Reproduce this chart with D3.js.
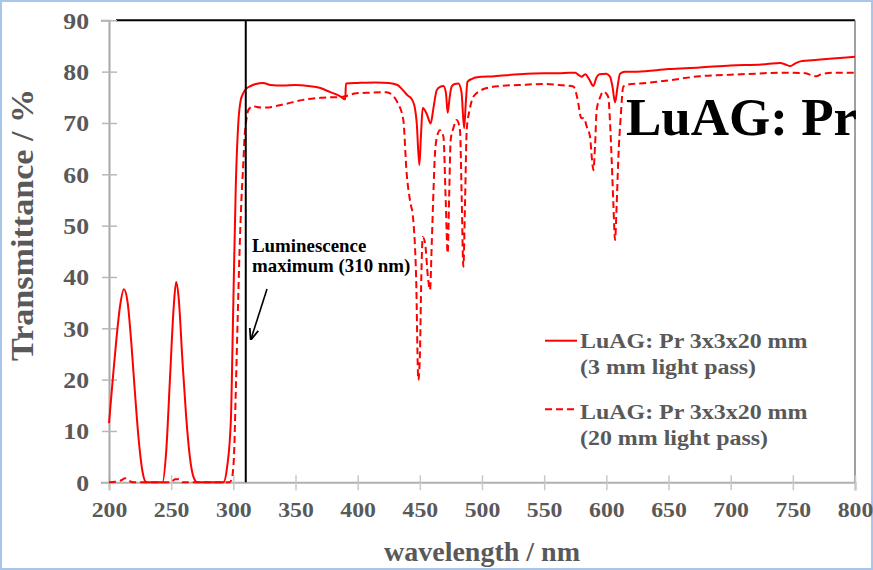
<!DOCTYPE html>
<html>
<head>
<meta charset="utf-8">
<script src="https://cdn.jsdelivr.net/npm/d3@7"></script>
<style>
html,body{margin:0;padding:0;background:#fff;}
svg{display:block;}
</style>
</head>
<body>
<svg id="chart" width="873" height="570"></svg>
<script>
// ---- data ----
const xTicks = [200,250,300,350,400,450,500,550,600,650,700,750,800];
const yTicks = [0,10,20,30,40,50,60,70,80,90];

const thinWl = [200,203,206,209,212,215,218,221,224,227,230,243,246,249,252,254,256,259,262,265,268,271,292,295,298,300,302,304,306,308,310,314,318,324,330,340,350,360,370,378,386,390,390.6,400,415,425,432,436,440,443,445.5,447.5,449.6,451,452.3,455.5,458.7,461,463.6,466,469,471,472.4,474,475.6,478,481,483.5,485.6,487,488.3,492,496,510,530,550,562,570,575,578,580,583,586,589.6,592,594.4,600,603,605,607,609,611,615,625,650,675,700,725,740,744,748,752,756,770,785,800];
const thinT  = [11.5,20,28,34.5,37.6,35,27,17,8,2,0,0,6,20,34,39,36,24,13,5,1,0,0,3,12,35,58,70,74.5,75.8,76.6,77.2,77.6,77.8,77.4,77.3,77.4,77.2,76.8,76,75.2,74.6,77.7,77.8,77.9,77.8,77.4,76.5,75.4,74.8,73.5,70,61.8,68,72.9,71.8,69.9,73,76.4,77,77.2,75.8,72.0,75,77.1,77.6,77.7,76,69.0,74,78,78.6,78.9,79.1,79.5,79.7,79.7,79.8,79.8,79.3,79.0,79.5,78.6,77.2,78.8,79.5,79.6,79.0,77,74.0,77,79.6,80.0,80.0,80.5,80.8,81.2,81.4,81.7,81.4,81.1,81.6,82.0,82.3,82.6,82.9];

const thickWl = [200,205,210,213,216,220,250,253,256,259,297,299,300.5,302,303.5,305,306.5,308,309,310.7,312,316,319,322,326,340,356,370,388,399,410,423,428,432,436.7,439.4,442,444.7,447,448.8,450.1,451.2,452.3,454.2,456.5,458.2,459.6,461,462.2,464,466.2,469,470.8,472.4,473.6,474.8,477,479.7,482.3,483.7,485,486.4,487.7,490,493,498,503.7,515,530,550,562,573.5,575.5,577.5,579,580.2,582,584.2,586.9,588.4,589.6,591,592.2,595,597.6,600,601.6,603,604.3,605.7,607,608.3,609.6,611.5,613.7,620,627,650,675,700,720,740,760,765,769,773,785,800];
const thickT  = [0,0.1,0.4,0.8,0.3,0,0,0.6,0.6,0,0,1,5,18,32,45,55,62,67,71,72.5,73.3,73.1,73.0,73.0,73.6,74.5,74.9,75.1,75.8,75.9,76.0,75.4,74,70.6,60.2,55,51.1,40,19.9,25.2,40,47.8,46.6,40,37.5,46.6,57,64.1,67.5,68.6,67.3,55,44.6,56,66.7,69,70.6,68.6,55,42.0,55,68.6,72.5,75.1,76.2,76.8,77.2,77.4,77.6,77.4,77.1,76,73.8,71.5,70.9,71,69.3,67.3,63,60.8,66,72.5,75,76.1,75.7,75.0,70,62.8,54,47.2,54,62.8,71,77.1,77.6,77.7,78.3,79.1,79.4,79.6,79.8,79.7,79.3,79.1,79.5,79.8,79.8];

const seriesNames = ["LuAG: Pr 3x3x20 mm", "(3 mm light pass)", "LuAG: Pr 3x3x20 mm", "(20 mm light pass)"];
const markerWl = 310;
const annotationLines = ["Luminescence", "maximum (310 nm)"];
const bigLabel = "LuAG: Pr";
const xTitle = "wavelength / nm";
const yTitle = "Transmittance / %";

// ---- layout ----
const W = 873, H = 570;
const L = 109, R = 855, T = 20.3, B = 482.3;
const FONT = "'Liberation Serif','Times New Roman',serif";
const GREY = "#595959";

const svg = d3.select("#chart");
const x = d3.scaleLinear().domain([200,800]).range([L,R]);
const y = d3.scaleLinear().domain([0,90]).range([B,T]);

// outer border
svg.append("rect").attr("x",1).attr("y",1).attr("width",W-2).attr("height",H-2)
  .attr("fill","#fff").attr("stroke","#a9c5ec").attr("stroke-width",2);

// plot frame (top black, right grey)
svg.append("line").attr("x1",L+7).attr("x2",R).attr("y1",T).attr("y2",T)
  .attr("stroke","#000").attr("stroke-width",2);
svg.append("line").attr("x1",R).attr("x2",R).attr("y1",T).attr("y2",B)
  .attr("stroke","#808080").attr("stroke-width",1.5);

function stretchText(sel, s){
  sel.each(function(){
    const t = d3.select(this);
    const xx = +t.attr("x")||0;
    t.attr("x", xx/s).attr("transform", `scale(${s},1)`);
  });
}

// x axis
const gx = svg.append("g").attr("transform",`translate(0,${B})`)
  .call(d3.axisBottom(x).tickValues(xTicks).tickSize(8).tickFormat(d3.format("d")));
gx.select(".domain").attr("stroke","#b0b0b0").attr("stroke-width",2);
gx.selectAll(".tick line").attr("stroke","#c8c8c8").attr("stroke-width",1.5).attr("y1",-7).attr("y2",8);
gx.selectAll(".tick text").attr("y",35).attr("dy",0)
  .style("font-family",FONT).style("font-weight","bold").style("font-size","22px").attr("fill",GREY)
  .call(stretchText,1.08);

// y axis
const gy = svg.append("g").attr("transform",`translate(${L},0)`)
  .call(d3.axisLeft(y).tickValues(yTicks).tickSize(8).tickFormat(d3.format("d")));
gy.select(".domain").attr("stroke","#a8a8a8").attr("stroke-width",2);
gy.selectAll(".tick line").attr("stroke","#b8b8b8").attr("stroke-width",1.5).attr("x1",-7).attr("x2",8);
gy.selectAll(".tick text").attr("x",-20).attr("dy","0.34em")
  .style("font-family",FONT).style("font-weight","bold").style("font-size","23px").attr("fill",GREY)
  .call(stretchText,1.12);

// curves
const line = d3.line().x(d=>x(d[0])).y(d=>y(d[1])).curve(d3.curveMonotoneX);
const thinData = thinWl.map((w,i)=>[w,thinT[i]]);
const thickData = thickWl.map((w,i)=>[w,thickT[i]]);
svg.append("path").datum(thickData).attr("d",line).attr("fill","none")
  .attr("stroke","#ff0000").attr("stroke-width",2).attr("stroke-dasharray","7,4");
svg.append("path").datum(thinData).attr("d",line).attr("fill","none")
  .attr("stroke","#ff0000").attr("stroke-width",2);

// marker line at 310 nm
svg.append("line").attr("x1",x(markerWl)).attr("x2",x(markerWl)).attr("y1",T).attr("y2",B)
  .attr("stroke","#000").attr("stroke-width",2);

// helper for stretched text
function addText(str, px, py, opts){
  const g = svg.append("g").attr("transform",`translate(${px},${py}) rotate(${opts.rot||0}) scale(${opts.sx||1},1)`);
  g.append("text").text(str).attr("x",0).attr("y",0)
    .attr("text-anchor",opts.anchor||"start")
    .style("font-family",FONT).style("font-weight","bold")
    .style("font-size",opts.size+"px").attr("fill",opts.color||GREY);
  return g;
}

// annotation
addText(annotationLines[0], 252, 252, {size:18, sx:1.05, color:"#000"});
addText(annotationLines[1], 252, 272, {size:18, sx:1.05, color:"#000"});
const defs = svg.append("defs");
defs.append("marker").attr("id","ah").attr("viewBox","0 0 10 10").attr("refX",9).attr("refY",5)
  .attr("markerWidth",7).attr("markerHeight",7).attr("orient","auto")
  .append("path").attr("d","M0,1 L10,5 L0,9").attr("fill","none").attr("stroke","#000").attr("stroke-width",1.6);
svg.append("line").attr("x1",267).attr("y1",289).attr("x2",251).attr("y2",339)
  .attr("stroke","#000").attr("stroke-width",1.6).attr("marker-end","url(#ah)");

// big label
addText(bigLabel, 626, 135, {size:53, color:"#000"});

// legend
svg.append("line").attr("x1",545).attr("x2",577).attr("y1",340.7).attr("y2",340.7)
  .attr("stroke","#ff0000").attr("stroke-width",2);
svg.append("line").attr("x1",545).attr("x2",577).attr("y1",409.3).attr("y2",409.3)
  .attr("stroke","#ff0000").attr("stroke-width",2).attr("stroke-dasharray","7,4");
addText(seriesNames[0], 580, 347.5, {size:21, sx:1.14});
addText(seriesNames[1], 580, 374, {size:21, sx:1.14});
addText(seriesNames[2], 580, 418.5, {size:21, sx:1.14});
addText(seriesNames[3], 580, 445, {size:21, sx:1.14});

// axis titles
addText(xTitle, 482, 561, {size:28, anchor:"middle"});
addText(yTitle, 33, 225, {size:31, sx:1.1, rot:-90, anchor:"middle"});
</script>
</body>
</html>
